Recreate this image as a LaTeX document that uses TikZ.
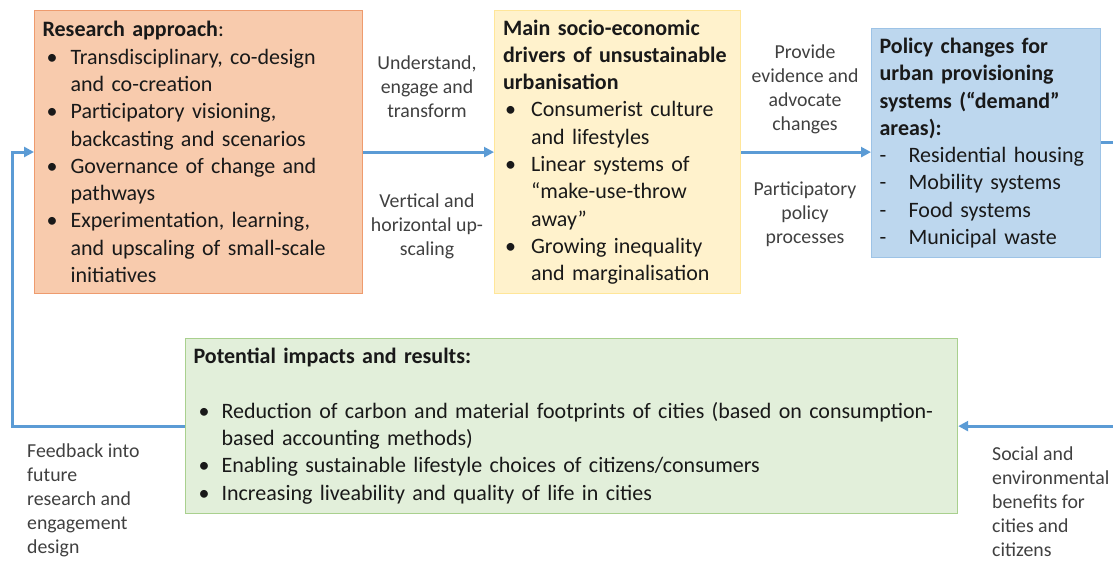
\documentclass[tikz,border=0pt]{standalone}
\usepackage{fontspec}
\setmainfont{Carlito}
\usetikzlibrary{arrows.meta}

\definecolor{flowblue}{HTML}{5B9BD5}
\definecolor{researchfill}{HTML}{F8CBAD}
\definecolor{researchline}{HTML}{EE9B6E}
\definecolor{driverfill}{HTML}{FFF2CC}
\definecolor{driverline}{HTML}{FFE699}
\definecolor{policyfill}{HTML}{BDD7EE}
\definecolor{policyline}{HTML}{9DC3E6}
\definecolor{impactfill}{HTML}{E2EFDA}
\definecolor{impactline}{HTML}{A9D08E}

% bullet, continuation and dash lines inside the boxes
\newcommand{\itm}[2][4pt]{\par\noindent\makebox[28pt][l]{\hspace{#1}\textbullet}#2}
\newcommand{\cnt}[1]{\par\noindent\hspace*{28pt}#1}
\newcommand{\dsh}[1]{\par\noindent\makebox[29pt][l]{-}#1}

\tikzset{
  flow/.style={draw=flowblue,line width=3pt,-{Triangle[length=10pt,width=10pt]}},
  box/.style={anchor=north west,line width=1.2pt,inner xsep=8pt,inner ysep=0pt,align=left,
    font={\fontsize{22}{27.3}\selectfont\hyphenpenalty=10000},text=black!90},
  lbl/.style={align=center,inner sep=0pt,text=black!75,font={\fontsize{19.8}{24}\selectfont}}
}

\begin{document}
\begin{tikzpicture}[x=1pt,y=-1pt]
    \useasboundingbox (0,0) rectangle (1113,560);
    \node[box,fill=researchfill,draw=researchline,minimum width=328pt,minimum height=283pt,text width=312pt] (research) at (34,10)
      {\textbf{Research approach}:
       \itm{Transdisciplinary, co-design}\cnt{and co-creation}
       \itm{Participatory visioning,}\cnt{backcasting and scenarios}
       \itm{Governance of change and}\cnt{pathways}
       \itm{Experimentation, learning,}\cnt{and upscaling of small-scale}\cnt{initiatives}\par};
    \node[box,fill=driverfill,draw=driverline,minimum width=246pt,minimum height=283pt,text width=229pt] (drivers) at (494,10)
      {\textbf{Main socio-economic}\\\textbf{drivers of unsustainable}\\\textbf{urbanisation}
       \itm[2pt]{Consumerist culture}\cnt{and lifestyles}
       \itm[2pt]{Linear systems of}\cnt{“make-use-throw}\cnt{away”}
       \itm[2pt]{Growing inequality}\cnt{and marginalisation}\par};
    \node[box,fill=policyfill,draw=policyline,minimum width=229pt,minimum height=229pt,text width=213pt] (policy) at (871,28)
      {\textbf{Policy changes for}\\\textbf{urban provisioning}\\\textbf{systems (“demand”}\\\textbf{areas):}
       \dsh{Residential housing}
       \dsh{Mobility systems}
       \dsh{Food systems}
       \dsh{Municipal waste}\par};
    \node[box,fill=impactfill,draw=impactline,minimum width=772pt,minimum height=175pt,text width=756pt] (impacts) at (185,338)
      {\textbf{Potential impacts and results:}\par\mbox{}
       \itm[5pt]{Reduction of carbon and material footprints of cities (based on consumption-}\cnt{based accounting methods)}
       \itm[5pt]{Enabling sustainable lifestyle choices of citizens/consumers}
       \itm[5pt]{Increasing liveability and quality of life in cities}\par};

    % labels of the connectors
    \node[lbl] (engage) at (427,87) {Understand,\\engage and\\transform};
    \node[lbl] (upscale) at (427,226) {Vertical and\\horizontal up-\\scaling};
    \node[lbl] (evidence) at (805,89) {Provide\\evidence  and\\advocate\\changes};
    \node[lbl] (participate) at (805,214) {Participatory\\policy\\processes};
    \node[lbl,align=left,anchor=west] (benefits) at (992,502) {Social and\\environmental\\benefits for\\cities and\\citizens};
    \node[lbl,align=left,anchor=west] (feedback) at (27,500) {Feedback into\\future\\research and\\engagement\\design};

    % loop turns
    \coordinate (rightturn) at (1130,142);
    \coordinate (leftturn) at (12,152);

    \draw[flow] (research) -- (drivers);
    \draw[flow] (drivers.east) -- (drivers.east -| policy.west);
    \draw[flow] (policy.east |- rightturn) -- (rightturn) |- (impacts.east);
    \draw[flow] (impacts.west) -| (leftturn) -- (leftturn -| research.west);
\end{tikzpicture}
\end{document}
